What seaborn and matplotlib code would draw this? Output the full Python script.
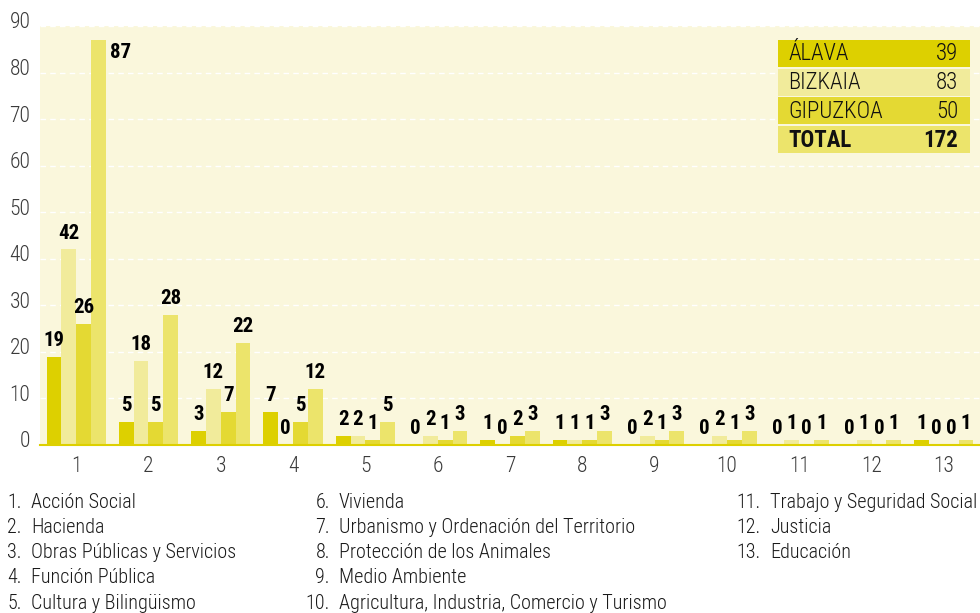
import numpy as np
import pandas as pd
import matplotlib.pyplot as plt
import seaborn as sns
from matplotlib import font_manager as fm
from matplotlib.patches import Rectangle
from matplotlib.transforms import ScaledTranslation

areas = [str(i) for i in range(1, 14)]
alava = [19, 5, 3, 7, 2, 0, 1, 1, 0, 0, 0, 0, 1]
bizkaia = [42, 18, 12, 0, 2, 2, 0, 1, 2, 2, 1, 1, 0]
gipuzkoa = [26, 5, 7, 5, 1, 1, 2, 1, 1, 1, 0, 0, 0]
total = [87, 28, 22, 12, 5, 3, 3, 3, 3, 3, 1, 1, 1]
regions = ['ÁLAVA', 'BIZKAIA', 'GIPUZKOA', 'TOTAL']
region_totals = [39, 83, 50, 172]
palette = ['#ddd000', '#f1eb9b', '#e4d933', '#ece46b']
area_names = ['Acción Social', 'Hacienda', 'Obras Públicas y Servicios', 'Función Pública',
              'Cultura y Bilingüismo', 'Vivienda', 'Urbanismo y Ordenación del Territorio',
              'Protección de los Animales', 'Medio Ambiente',
              'Agricultura, Industria, Comercio y Turismo', 'Trabajo y Seguridad Social',
              'Justicia', 'Educación']

df = pd.DataFrame({
    'area': areas * 4,
    'region': np.repeat(regions, len(areas)),
    'n': alava + bizkaia + gipuzkoa + total,
})

sns.set_style('white')
installed = {f.name for f in fm.fontManager.ttflist}
narrow = next((n for n in ['Roboto Condensed', 'Archivo Narrow', 'PT Sans Narrow',
                           'Barlow Semi Condensed', 'Liberation Sans Narrow', 'Roboto']
               if n in installed), 'DejaVu Sans')
plt.rcParams['font.family'] = [narrow, 'DejaVu Sans']

W, H = 980, 613
fig = plt.figure(figsize=(W / 100, H / 100), dpi=100)
ax = fig.add_axes([40 / W, 1 - 445 / H, 940 / W, (445 - 26) / H])
ax.set_facecolor('#faf7dc')

sns.barplot(data=df, x='area', y='n', hue='region', palette=palette, width=0.82,
            saturation=1, linewidth=0, legend=False, ax=ax, zorder=2)

ax.set_xlim(-0.5, 12.5)
ax.set_ylim(0, 90)
ax.set_yticks(range(0, 100, 10))
ax.yaxis.grid(True, color='white', ls=(0, (4, 3)), lw=1, zorder=1)
ax.set_axisbelow(True)
ax.set_xlabel('')
ax.set_ylabel('')
for s in ['top', 'right', 'left']:
    ax.spines[s].set_visible(False)
ax.spines['bottom'].set_color('#ddd000')
ax.spines['bottom'].set_linewidth(1.5)

ax.tick_params(axis='y', length=0, labelsize=15.5, labelcolor='#3a3a3a', pad=7)
up = ScaledTranslation(0, 4 / 72, fig.dpi_scale_trans)
for lab in ax.get_yticklabels():
    lab.set_transform(lab.get_transform() + up)
    lab.set_fontweight('light')

ax.set_xticks(np.arange(-0.5, 13, 1), minor=True)
ax.tick_params(axis='x', which='major', length=0, labelsize=15.5, labelcolor='#3a3a3a', pad=8)
ax.tick_params(axis='x', which='minor', length=8, width=1.5, color='#888888', direction='out')
for lab in ax.get_xticklabels():
    lab.set_fontweight('light')

for cont in ax.containers:
    for bar in cont:
        h = bar.get_height()
        x = bar.get_x() + bar.get_width() / 2
        if h > 80:
            ax.annotate(f'{int(h)}', (bar.get_x() + bar.get_width(), h), xytext=(3, -2),
                        textcoords='offset points', ha='left', va='top',
                        fontsize=15, fontweight='bold', color='black')
        else:
            ax.annotate(f'{int(h)}', (x, h), xytext=(0, 5), textcoords='offset points',
                        ha='center', va='bottom', fontsize=15, fontweight='bold', color='black')

# summary table (top right)
for i, (name, val, col) in enumerate(zip(regions, region_totals, palette)):
    top = 40 + i * 28.7
    fig.add_artist(Rectangle((778 / W, 1 - (top + 27) / H), 192 / W, 27 / H,
                             transform=fig.transFigure, facecolor=col, edgecolor='none'))
    weight = 'bold' if name == 'TOTAL' else 'light'
    yc = 1 - (top + 14) / H
    fig.text(788 / W, yc, name, ha='left', va='center', fontsize=16.5, fontweight=weight, color='#111111')
    fig.text(958 / W, yc, str(val), ha='right', va='center', fontsize=16.5, fontweight=weight, color='#111111')

# category key below the chart
col_num_x = [22, 330, 761]
for i, name in enumerate(area_names):
    col = 0 if i < 5 else (1 if i < 10 else 2)
    row = i - (0, 5, 10)[col]
    yc = 1 - (502 + row * 25.3) / H
    fig.text(col_num_x[col] / W, yc, f'{i + 1}.', ha='right', va='center', fontsize=14.5,
             fontweight='light', color='#1a1a1a')
    fig.text((col_num_x[col] + 9) / W, yc, name, ha='left', va='center', fontsize=14.5,
             fontweight='light', color='#1a1a1a')

fig.savefig('out.png', dpi=100)
